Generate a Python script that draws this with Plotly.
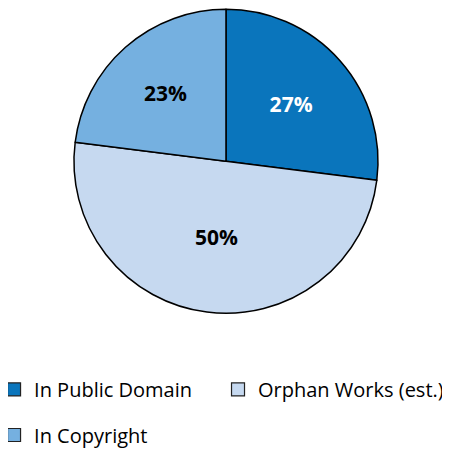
import plotly.graph_objects as go

# Share of works by copyright status
labels = ["In Public Domain", "Orphan Works (est.)", "In Copyright"]
values = [27, 50, 23]
colors = ["#0a75bc", "#c6d9f0", "#75b0e0"]
text_colors = ["white", "black", "black"]
# one small legend per category so each entry can sit where the original has it
legend_ids = ["legend", "legend2", "legend3"]

fig = go.Figure()

fig.add_trace(
    go.Pie(
        labels=labels,
        values=values,
        sort=False,
        direction="clockwise",
        rotation=0,
        marker=dict(colors=colors, line=dict(color="black", width=1.5)),
        texttemplate="%{percent:.0%}",
        textposition="inside",
        insidetextorientation="horizontal",
        textfont=dict(family="Open Sans", size=21, color=text_colors, weight="bold"),
        domain=dict(x=[0.1466, 0.8222], y=[0.0994, 0.9962]),
        hoverinfo="label+percent",
        showlegend=False,
    )
)

# legend entries (dummy markers, the pie itself has no legend)
for name, color, leg in zip(labels, colors, legend_ids):
    fig.add_trace(
        go.Scatter(
            x=[None],
            y=[None],
            mode="markers",
            name=name,
            marker=dict(symbol="square", size=13, color=color,
                        line=dict(color="#222222", width=1.2)),
            legend=leg,
            hoverinfo="skip",
        )
    )

legend_style = dict(
    orientation="h",
    xanchor="left",
    yanchor="middle",
    itemclick=False,
    font=dict(family="Open Sans", size=20, color="black"),
    bgcolor="rgba(0,0,0,0)",
)

fig.update_layout(
    width=450,
    height=449,
    margin=dict(l=0, r=0, t=0, b=110, autoexpand=False),
    paper_bgcolor="white",
    plot_bgcolor="white",
    font=dict(family="Open Sans", size=18, color="black"),
    xaxis=dict(visible=False),
    yaxis=dict(visible=False),
    legend=dict(x=-0.031, y=-0.1251, **legend_style),
    legend2=dict(x=0.4667, y=-0.1251, **legend_style),
    legend3=dict(x=-0.031, y=-0.2596, **legend_style),
)

fig.write_html("out.html")
